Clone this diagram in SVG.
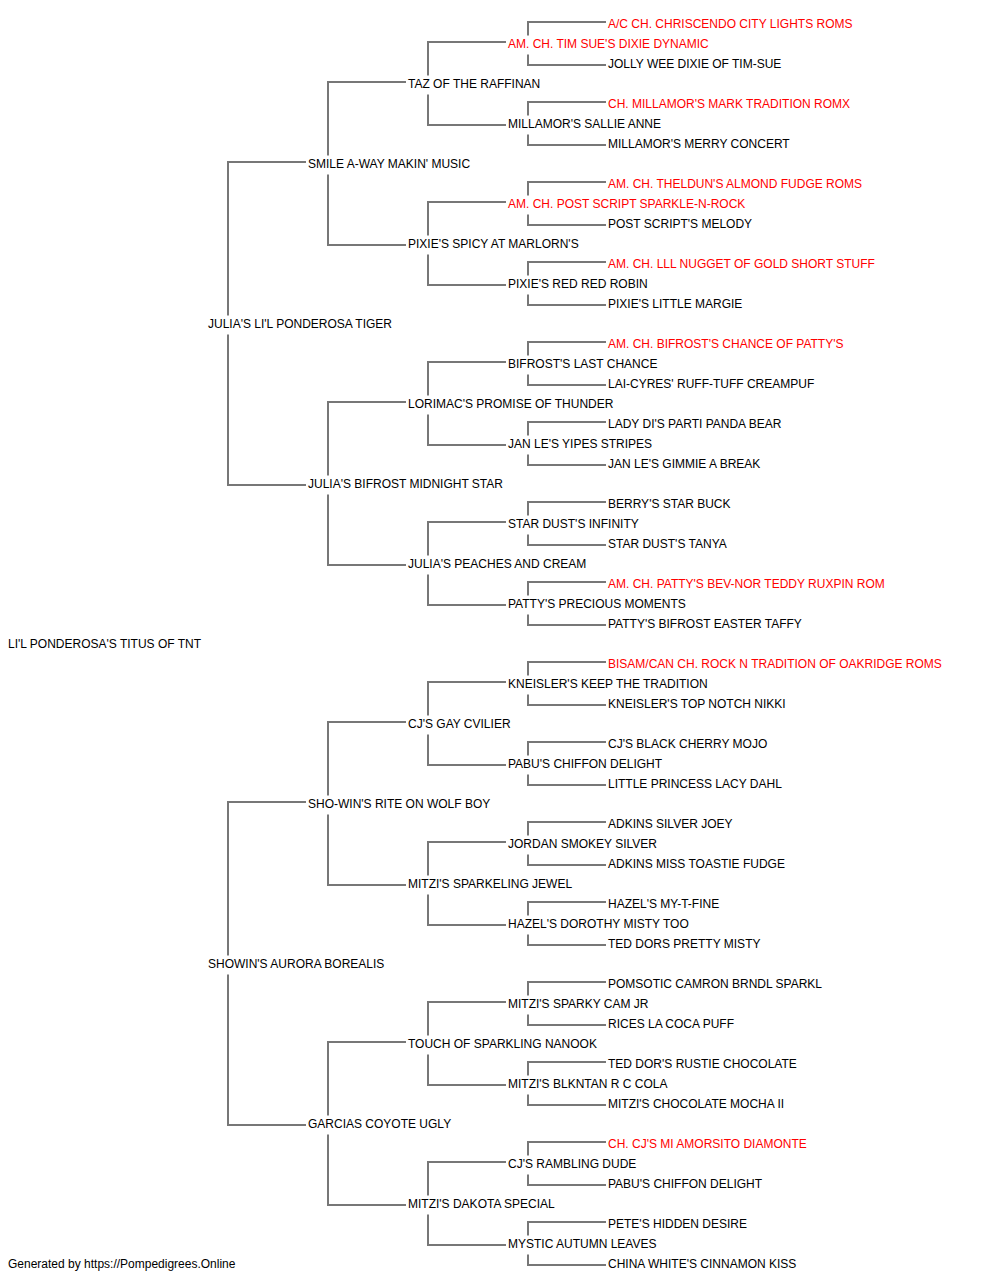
<svg xmlns="http://www.w3.org/2000/svg" xmlns:xlink="http://www.w3.org/1999/xlink" width="1000" height="1280" viewBox="0 0 1000 1280">
<style>
text{font-family:"Liberation Sans",Arial,sans-serif;font-size:12px;fill:#000}
text.ch{fill:#ff0000}
.ln{fill:none;stroke:#777;stroke-width:2}
</style>
<defs>
<path id="c1" class="ln" d="M606 2H528V15.5M528 34.5V45H606"/>
<path id="c2" class="ln" d="M506 -18H428V15.5M428 34.5V65H506"/>
<path id="c4" class="ln" d="M406 -58H328V15.5M328 34.5V105H406"/>
<path id="c8" class="ln" d="M306 -138H228V15.5M228 34.5V185H306"/>
</defs>
<rect width="1000" height="1280" fill="#fff"/>
<g id="connectors">
<use xlink:href="#c8" y="300"/><use xlink:href="#c8" y="940"/>
<use xlink:href="#c4" y="140"/><use xlink:href="#c4" y="460"/><use xlink:href="#c4" y="780"/><use xlink:href="#c4" y="1100"/>
<use xlink:href="#c2" y="60"/><use xlink:href="#c2" y="220"/><use xlink:href="#c2" y="380"/><use xlink:href="#c2" y="540"/><use xlink:href="#c2" y="700"/><use xlink:href="#c2" y="860"/><use xlink:href="#c2" y="1020"/><use xlink:href="#c2" y="1180"/>
<use xlink:href="#c1" y="20"/><use xlink:href="#c1" y="100"/><use xlink:href="#c1" y="180"/><use xlink:href="#c1" y="260"/><use xlink:href="#c1" y="340"/><use xlink:href="#c1" y="420"/><use xlink:href="#c1" y="500"/><use xlink:href="#c1" y="580"/><use xlink:href="#c1" y="660"/><use xlink:href="#c1" y="740"/><use xlink:href="#c1" y="820"/><use xlink:href="#c1" y="900"/><use xlink:href="#c1" y="980"/><use xlink:href="#c1" y="1060"/><use xlink:href="#c1" y="1140"/><use xlink:href="#c1" y="1220"/>
</g>
<g id="n-root"><text x="8" y="648">LI'L PONDEROSA'S TITUS OF TNT</text></g>
<g id="n-s"><text x="208" y="328">JULIA'S LI'L PONDEROSA TIGER</text></g>
<g id="n-d"><text x="208" y="968">SHOWIN'S AURORA BOREALIS</text></g>
<g id="n-ss"><text x="308" y="168">SMILE A-WAY MAKIN' MUSIC</text></g>
<g id="n-sd"><text x="308" y="488">JULIA'S BIFROST MIDNIGHT STAR</text></g>
<g id="n-ds"><text x="308" y="808">SHO-WIN'S RITE ON WOLF BOY</text></g>
<g id="n-dd"><text x="308" y="1128">GARCIAS COYOTE UGLY</text></g>
<g id="n-sss"><text x="408" y="88">TAZ OF THE RAFFINAN</text></g>
<g id="n-ssd"><text x="408" y="248">PIXIE'S SPICY AT MARLORN'S</text></g>
<g id="n-sds"><text x="408" y="408">LORIMAC'S PROMISE OF THUNDER</text></g>
<g id="n-sdd"><text x="408" y="568">JULIA'S PEACHES AND CREAM</text></g>
<g id="n-dss"><text x="408" y="728">CJ'S GAY CVILIER</text></g>
<g id="n-dsd"><text x="408" y="888">MITZI'S SPARKELING JEWEL</text></g>
<g id="n-dds"><text x="408" y="1048">TOUCH OF SPARKLING NANOOK</text></g>
<g id="n-ddd"><text x="408" y="1208">MITZI'S DAKOTA SPECIAL</text></g>
<g id="n-g4-1"><text class="ch" x="508" y="48">AM. CH. TIM SUE'S DIXIE DYNAMIC</text></g>
<g id="n-g4-2"><text x="508" y="128">MILLAMOR'S SALLIE ANNE</text></g>
<g id="n-g4-3"><text class="ch" x="508" y="208">AM. CH. POST SCRIPT SPARKLE-N-ROCK</text></g>
<g id="n-g4-4"><text x="508" y="288">PIXIE'S RED RED ROBIN</text></g>
<g id="n-g4-5"><text x="508" y="368">BIFROST'S LAST CHANCE</text></g>
<g id="n-g4-6"><text x="508" y="448">JAN LE'S YIPES STRIPES</text></g>
<g id="n-g4-7"><text x="508" y="528">STAR DUST'S INFINITY</text></g>
<g id="n-g4-8"><text x="508" y="608">PATTY'S PRECIOUS MOMENTS</text></g>
<g id="n-g4-9"><text x="508" y="688">KNEISLER'S KEEP THE TRADITION</text></g>
<g id="n-g4-10"><text x="508" y="768">PABU'S CHIFFON DELIGHT</text></g>
<g id="n-g4-11"><text x="508" y="848">JORDAN SMOKEY SILVER</text></g>
<g id="n-g4-12"><text x="508" y="928">HAZEL'S DOROTHY MISTY TOO</text></g>
<g id="n-g4-13"><text x="508" y="1008">MITZI'S SPARKY CAM JR</text></g>
<g id="n-g4-14"><text x="508" y="1088">MITZI'S BLKNTAN R C COLA</text></g>
<g id="n-g4-15"><text x="508" y="1168">CJ'S RAMBLING DUDE</text></g>
<g id="n-g4-16"><text x="508" y="1248">MYSTIC AUTUMN LEAVES</text></g>
<g id="n-g5-1"><text class="ch" x="608" y="28">A/C CH. CHRISCENDO CITY LIGHTS ROMS</text></g>
<g id="n-g5-2"><text x="608" y="68">JOLLY WEE DIXIE OF TIM-SUE</text></g>
<g id="n-g5-3"><text class="ch" x="608" y="108">CH. MILLAMOR'S MARK TRADITION ROMX</text></g>
<g id="n-g5-4"><text x="608" y="148">MILLAMOR'S MERRY CONCERT</text></g>
<g id="n-g5-5"><text class="ch" x="608" y="188">AM. CH. THELDUN'S ALMOND FUDGE ROMS</text></g>
<g id="n-g5-6"><text x="608" y="228">POST SCRIPT'S MELODY</text></g>
<g id="n-g5-7"><text class="ch" x="608" y="268">AM. CH. LLL NUGGET OF GOLD SHORT STUFF</text></g>
<g id="n-g5-8"><text x="608" y="308">PIXIE'S LITTLE MARGIE</text></g>
<g id="n-g5-9"><text class="ch" x="608" y="348">AM. CH. BIFROST'S CHANCE OF PATTY'S</text></g>
<g id="n-g5-10"><text x="608" y="388">LAI-CYRES' RUFF-TUFF CREAMPUF</text></g>
<g id="n-g5-11"><text x="608" y="428">LADY DI'S PARTI PANDA BEAR</text></g>
<g id="n-g5-12"><text x="608" y="468">JAN LE'S GIMMIE A BREAK</text></g>
<g id="n-g5-13"><text x="608" y="508">BERRY'S STAR BUCK</text></g>
<g id="n-g5-14"><text x="608" y="548">STAR DUST'S TANYA</text></g>
<g id="n-g5-15"><text class="ch" x="608" y="588">AM. CH. PATTY'S BEV-NOR TEDDY RUXPIN ROM</text></g>
<g id="n-g5-16"><text x="608" y="628">PATTY'S BIFROST EASTER TAFFY</text></g>
<g id="n-g5-17"><text class="ch" x="608" y="668">BISAM/CAN CH. ROCK N TRADITION OF OAKRIDGE ROMS</text></g>
<g id="n-g5-18"><text x="608" y="708">KNEISLER'S TOP NOTCH NIKKI</text></g>
<g id="n-g5-19"><text x="608" y="748">CJ'S BLACK CHERRY MOJO</text></g>
<g id="n-g5-20"><text x="608" y="788">LITTLE PRINCESS LACY DAHL</text></g>
<g id="n-g5-21"><text x="608" y="828">ADKINS SILVER JOEY</text></g>
<g id="n-g5-22"><text x="608" y="868">ADKINS MISS TOASTIE FUDGE</text></g>
<g id="n-g5-23"><text x="608" y="908">HAZEL'S MY-T-FINE</text></g>
<g id="n-g5-24"><text x="608" y="948">TED DORS PRETTY MISTY</text></g>
<g id="n-g5-25"><text x="608" y="988">POMSOTIC CAMRON BRNDL SPARKL</text></g>
<g id="n-g5-26"><text x="608" y="1028">RICES LA COCA PUFF</text></g>
<g id="n-g5-27"><text x="608" y="1068">TED DOR'S RUSTIE CHOCOLATE</text></g>
<g id="n-g5-28"><text x="608" y="1108">MITZI'S CHOCOLATE MOCHA II</text></g>
<g id="n-g5-29"><text class="ch" x="608" y="1148">CH. CJ'S MI AMORSITO DIAMONTE</text></g>
<g id="n-g5-30"><text x="608" y="1188">PABU'S CHIFFON DELIGHT</text></g>
<g id="n-g5-31"><text x="608" y="1228">PETE'S HIDDEN DESIRE</text></g>
<g id="n-g5-32"><text x="608" y="1268">CHINA WHITE'S CINNAMON KISS</text></g>
<g id="footer"><text x="8" y="1268">Generated by https://Pompedigrees.Online</text></g>
</svg>
